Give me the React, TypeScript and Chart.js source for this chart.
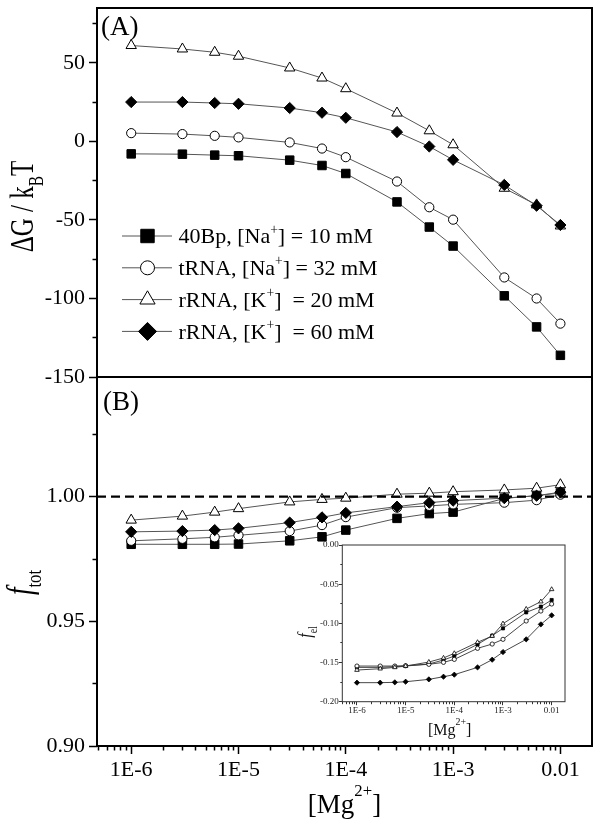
import React, { useEffect, useRef } from 'react';
import { Chart, registerables } from 'chart.js';
import { drawPoint } from 'chart.js/helpers';

Chart.register(...registerables);

const FONT = "'Liberation Serif', 'Times New Roman', serif";

// ---------- data ----------
const mgConc = [1e-6, 3e-6, 6e-6, 1e-5, 3e-5, 6e-5, 1e-4, 3e-4, 6e-4, 1e-3, 3e-3, 6e-3, 1e-2];

const seriesLabels = [
  '40Bp, [Na^{+}] = 10 mM',
  'tRNA, [Na^{+}] = 32 mM',
  'rRNA, [K^{+}]  = 20 mM',
  'rRNA, [K^{+}]  = 60 mM',
];

// Panel (A): ΔG / kBT
const dG_40Bp = [-7.9, -8.1, -8.7, -9.1, -11.9, -15.3, -20.4, -38.5, -54.5, -66.6, -98.3, -118.1, -136.2];
const dG_tRNA = [5.3, 4.7, 3.6, 2.6, -0.6, -4.5, -10.0, -25.5, -41.9, -49.8, -86.6, -100.0, -116.0];
const dG_rRNA20 = [61.1, 58.9, 56.8, 54.3, 46.8, 40.4, 33.6, 18.1, 6.8, -2.1, -29.8, -40.4, -53.8];
const dG_rRNA60 = [25.1, 25.1, 24.5, 24.0, 21.3, 18.3, 15.1, 6.0, -3.2, -11.7, -27.7, -40.9, -53.2];

// Panel (B): f_tot
const ftot_40Bp = [0.9809, 0.9809, 0.9809, 0.981, 0.9823, 0.9839, 0.9866, 0.9913, 0.9932, 0.9938, 0.9993, 1.0004, 1.0015];
const ftot_tRNA = [0.9823, 0.9831, 0.9837, 0.9845, 0.9862, 0.9886, 0.9918, 0.9956, 0.9963, 0.9969, 0.9976, 0.9986, 1.0008];
const ftot_rRNA20 = [0.9906, 0.9922, 0.9938, 0.9952, 0.9979, 0.9989, 0.9994, 1.001, 1.0014, 1.002, 1.0027, 1.0034, 1.0048];
const ftot_rRNA60 = [0.9859, 0.9862, 0.9866, 0.9873, 0.9896, 0.9917, 0.9935, 0.996, 0.9976, 0.9984, 0.9994, 1.0004, 1.0018];
const ftotReference = 1.0;

// Inset: f_el
const fel_40Bp = [-0.1562, -0.1562, -0.1553, -0.1545, -0.1519, -0.1468, -0.1417, -0.1268, -0.1157, -0.1064, -0.086, -0.0787, -0.0702];
const fel_tRNA = [-0.1545, -0.1545, -0.1545, -0.154, -0.1523, -0.1498, -0.146, -0.1319, -0.1264, -0.1204, -0.097, -0.0843, -0.0753];
const fel_rRNA20 = [-0.1596, -0.1579, -0.1562, -0.1545, -0.1494, -0.1442, -0.1383, -0.1242, -0.1162, -0.1004, -0.0817, -0.0723, -0.0566];
const fel_rRNA60 = [-0.1757, -0.1757, -0.1753, -0.1745, -0.1715, -0.1681, -0.1655, -0.1562, -0.1464, -0.1366, -0.1204, -0.1013, -0.0898];

// ---------- axes ----------
const xRange = [4.8e-7, 0.0197];
const insetXRange = [5e-7, 0.0188];
const xMajorTicks = [1e-6, 1e-5, 1e-4, 1e-3, 1e-2];
const xMajorLabels = ['1E-6', '1E-5', '1E-4', '1E-3', '0.01'];

const yARange = [-150, 85];
const yAMajor = [-150, -100, -50, 0, 50];
const yAMajorLabels = ['-150', '-100', '-50', '0', '50'];
const yAMinor = [-125, -75, -25, 25, 75];

const yBRange = [0.9, 1.048];
const yBMajor = [0.9, 0.95, 1.0];
const yBMajorLabels = ['0.90', '0.95', '1.00'];
const yBMinor = [0.925, 0.975, 1.025];

const insetYRange = [-0.2, 0.0];
const insetYMajor = [-0.2, -0.15, -0.1, -0.05, 0.0];
const insetYMajorLabels = ['-0.20', '-0.15', '-0.10', '-0.05', '0.00'];
const insetYMinor = [-0.175, -0.125, -0.075, -0.025];

const titleA = 'ΔG / k_{B}T';
const titleB = '~{f}_{tot}';
const titleX = '[Mg^{2+}]';
const titleInsetY = '~{f}_{el}';

// ---------- styles ----------
const pointStyles = ['rect', 'circle', 'triangle', 'rectRot'];
const filled = [true, false, false, true];
const mainRadius = [6, 4.6, 6, 5.6];
const legendRadius = [9.5, 7, 8.8, 9];
const insetRadius = [2.2, 2.1, 2.6, 2.6];
const drawOrder = [3, 2, 1, 0];

type Part = { t: string; k: 'n' | 'sup' | 'sub'; it: boolean };
const SCRIPT = 0.62;

function parseRich(s: string): Part[] {
  const parts: Part[] = [];
  let buf = '';
  let i = 0;
  const flush = () => {
    if (buf) parts.push({ t: buf, k: 'n', it: false });
    buf = '';
  };
  while (i < s.length) {
    const c = s[i];
    if ((c === '^' || c === '_' || c === '~') && s[i + 1] === '{') {
      const end = s.indexOf('}', i + 2);
      flush();
      parts.push({ t: s.slice(i + 2, end), k: c === '^' ? 'sup' : c === '_' ? 'sub' : 'n', it: c === '~' });
      i = end + 1;
    } else {
      buf += c;
      i++;
    }
  }
  flush();
  return parts;
}

function setFont(ctx: CanvasRenderingContext2D, p: Part, size: number) {
  const sz = p.k === 'n' ? size : size * SCRIPT;
  ctx.font = `${p.it ? 'italic ' : ''}${sz}px ${FONT}`;
}

function drawRich(
  ctx: CanvasRenderingContext2D,
  text: string,
  x: number,
  y: number,
  size: number,
  align: 'left' | 'center',
  raise = 0.45,
  drop = 0.25
) {
  const parts = parseRich(text);
  let w = 0;
  for (const p of parts) {
    setFont(ctx, p, size);
    w += ctx.measureText(p.t).width;
  }
  let cx = align === 'center' ? x - w / 2 : x;
  ctx.textAlign = 'left';
  ctx.textBaseline = 'alphabetic';
  for (const p of parts) {
    setFont(ctx, p, size);
    const dy = p.k === 'sup' ? -raise * size : p.k === 'sub' ? drop * size : 0;
    ctx.fillText(p.t, cx, y + dy);
    cx += ctx.measureText(p.t).width;
  }
}

function drawRotated(
  ctx: CanvasRenderingContext2D,
  text: string,
  baseX: number,
  centerY: number,
  size: number,
  stretch: number,
  drop: number
) {
  ctx.save();
  ctx.translate(baseX, centerY);
  ctx.rotate(-Math.PI / 2);
  ctx.scale(1, stretch);
  drawRich(ctx, text, 0, 0, size, 'center', 0.45, drop);
  ctx.restore();
}

function logTicks(range: number[]) {
  const out: any[] = [];
  for (let e = -8; e <= 0; e++) {
    for (let m = 1; m <= 9; m++) {
      const v = m * Math.pow(10, e);
      if (v >= range[0] && v <= range[1]) {
        const idx = m === 1 ? xMajorTicks.findIndex((t) => Math.abs(t - v) / t < 1e-6) : -1;
        out.push({ value: v, minor: m !== 1, lbl: idx >= 0 ? xMajorLabels[idx] : '' });
      }
    }
  }
  return out;
}

function linTicks(major: number[], labels: string[], minor: number[]) {
  const out: any[] = [];
  major.forEach((v, i) => out.push({ value: v, minor: false, lbl: labels[i] }));
  minor.forEach((v) => out.push({ value: v, minor: true, lbl: '' }));
  out.sort((a, b) => a.value - b.value);
  return out;
}

const labelCb = (_v: any, i: number, ticks: any[]) => (ticks[i] && ticks[i].lbl) || '';

const fitY = (w: number) => (s: any) => {
  s.width = w;
  s.paddingTop = 0;
  s.paddingBottom = 0;
};
const fitX = (h: number) => (s: any) => {
  s.height = h;
  s.paddingLeft = 0;
  s.paddingRight = 0;
};

function series(values: number[], i: number, axis: string, radius: number[], lineColor: string, lw: number, pbw: number) {
  return {
    label: seriesLabels[i],
    data: mgConc.map((x, k) => ({ x, y: values[k] })),
    yAxisID: axis,
    xAxisID: 'x',
    borderColor: lineColor,
    borderWidth: lw,
    pointStyle: pointStyles[i],
    pointRadius: radius[i],
    pointBackgroundColor: filled[i] ? '#000' : '#fff',
    pointBorderColor: '#000',
    pointBorderWidth: pbw,
    tension: 0,
    order: drawOrder[i],
  };
}

const mainPlugin = {
  id: 'mainDecor',
  afterDraw(chart: any) {
    const { ctx, chartArea: a } = chart;
    const yA = chart.scales.yA;
    const yB = chart.scales.yB;
    ctx.save();
    // frame
    ctx.strokeStyle = '#000';
    ctx.lineWidth = 2;
    ctx.strokeRect(a.left, a.top, a.right - a.left, a.bottom - a.top);
    ctx.beginPath();
    ctx.moveTo(a.left, yA.bottom);
    ctx.lineTo(a.right, yA.bottom);
    ctx.stroke();

    ctx.fillStyle = '#000';
    drawRich(ctx, '(A)', a.left + 4, yA.top + 27, 27, 'left');
    drawRich(ctx, '(B)', a.left + 6, yB.top + 33, 27, 'left');

    drawRotated(ctx, titleA, 33, (yA.top + yA.bottom) / 2 + 14, 25, 1.35, 0.3);
    drawRotated(ctx, titleB, 31, (yB.top + yB.bottom) / 2 + 21, 27, 1.3, 0.28);
    drawRich(ctx, titleX, (a.left + a.right) / 2, 813, 27, 'center', 0.62);

    // legend
    const ds = chart.data.datasets;
    for (let i = 0; i < 4; i++) {
      const y = yA.top + 228 + i * 31.8;
      ctx.strokeStyle = ds[i].borderColor;
      ctx.lineWidth = 1;
      ctx.beginPath();
      ctx.moveTo(a.left + 25, y);
      ctx.lineTo(a.left + 75, y);
      ctx.stroke();
      ctx.fillStyle = filled[i] ? '#000' : '#fff';
      ctx.strokeStyle = '#000';
      ctx.lineWidth = 1;
      drawPoint(ctx, { pointStyle: pointStyles[i], radius: legendRadius[i], rotation: 0, borderWidth: 1 } as any, a.left + 50.5, y);
      ctx.fillStyle = '#000';
      drawRich(ctx, seriesLabels[i], a.left + 81.5, y + 7.4, 22, 'left', 0.45);
    }
    ctx.restore();
  },
};

const insetPlugin = {
  id: 'insetDecor',
  beforeDraw(chart: any) {
    const { ctx, chartArea: a } = chart;
    ctx.save();
    ctx.fillStyle = '#fff';
    ctx.fillRect(a.left, a.top, a.right - a.left, a.bottom - a.top);
    ctx.restore();
  },
  afterDraw(chart: any) {
    const { ctx, chartArea: a } = chart;
    ctx.save();
    ctx.strokeStyle = '#333';
    ctx.lineWidth = 1;
    ctx.strokeRect(a.left, a.top, a.right - a.left, a.bottom - a.top);
    ctx.fillStyle = '#111';
    drawRich(ctx, titleX, (a.left + a.right) / 2 - 4, 200, 16, 'center', 0.6);
    drawRotated(ctx, titleInsetY, a.left - 31, (a.top + a.bottom) / 2 + 8.6, 16, 1.2, 0.28);
    ctx.restore();
  },
};

function mainConfig(): any {
  const datasets: any[] = [
    series(dG_40Bp, 0, 'yA', mainRadius, '#555', 1, 1),
    series(dG_tRNA, 1, 'yA', mainRadius, '#555', 1, 1),
    series(dG_rRNA20, 2, 'yA', mainRadius, '#555', 1, 1),
    series(dG_rRNA60, 3, 'yA', mainRadius, '#555', 1, 1),
    series(ftot_40Bp, 0, 'yB', mainRadius, '#555', 1, 1),
    series(ftot_tRNA, 1, 'yB', mainRadius, '#555', 1, 1),
    series(ftot_rRNA20, 2, 'yB', mainRadius, '#555', 1, 1),
    series(ftot_rRNA60, 3, 'yB', mainRadius, '#555', 1, 1),
    {
      label: 'ref',
      data: [
        { x: xRange[0], y: ftotReference },
        { x: xRange[1], y: ftotReference },
      ],
      yAxisID: 'yB',
      xAxisID: 'x',
      borderColor: '#000',
      borderWidth: 2.2,
      borderDash: [9, 5],
      pointRadius: 0,
      order: -1,
    },
  ];
  const tickFont = { family: FONT, size: 22 };
  const yGrid = {
    display: true,
    drawOnChartArea: false,
    drawTicks: true,
    tickLength: 8,
    tickWidth: 1.5,
    tickColor: '#000',
    tickBorderDash: (c: any) => (c.tick && c.tick.minor ? [0, 3.5, 10, 100] : []),
  };
  return {
    type: 'line',
    data: { datasets },
    plugins: [mainPlugin],
    options: {
      animation: false,
      responsive: false,
      events: [],
      layout: { padding: { left: 0, top: 8, right: 12, bottom: 0 } },
      plugins: { legend: { display: false }, tooltip: { enabled: false } },
      scales: {
        x: {
          type: 'logarithmic',
          position: 'bottom',
          min: xRange[0],
          max: xRange[1],
          afterBuildTicks: (s: any) => {
            s.ticks = logTicks(xRange);
          },
          afterFit: fitX(81),
          border: { display: false },
          grid: {
            display: true,
            drawOnChartArea: false,
            drawTicks: true,
            tickLength: 8,
            tickWidth: 1.5,
            tickColor: '#000',
            tickBorderDash: (c: any) => (c.tick && c.tick.minor ? [4.5, 100] : []),
          },
          ticks: { autoSkip: false, maxRotation: 0, minRotation: 0, padding: 3, color: '#000', font: tickFont, callback: labelCb },
        },
        yB: {
          type: 'linear',
          position: 'left',
          stack: 'panels',
          stackWeight: 1,
          min: yBRange[0],
          max: yBRange[1],
          afterBuildTicks: (s: any) => {
            s.ticks = linTicks(yBMajor, yBMajorLabels, yBMinor);
          },
          afterFit: fitY(97),
          border: { display: false },
          grid: yGrid,
          ticks: { autoSkip: false, padding: 4, color: '#000', font: tickFont, callback: labelCb },
        },
        yA: {
          type: 'linear',
          position: 'left',
          stack: 'panels',
          stackWeight: 1,
          min: yARange[0],
          max: yARange[1],
          afterBuildTicks: (s: any) => {
            s.ticks = linTicks(yAMajor, yAMajorLabels, yAMinor);
          },
          afterFit: fitY(97),
          border: { display: false },
          grid: yGrid,
          ticks: { autoSkip: false, padding: 4, color: '#000', font: tickFont, callback: labelCb },
        },
      },
    },
  };
}

function insetConfig(): any {
  const datasets: any[] = [
    series(fel_40Bp, 0, 'y', insetRadius, '#333', 0.9, 0.8),
    series(fel_tRNA, 1, 'y', insetRadius, '#333', 0.9, 0.8),
    series(fel_rRNA20, 2, 'y', insetRadius, '#333', 0.9, 0.8),
    series(fel_rRNA60, 3, 'y', insetRadius, '#333', 0.9, 0.8),
  ];
  const tickFont = { family: FONT, size: 9 };
  return {
    type: 'line',
    data: { datasets },
    plugins: [insetPlugin],
    options: {
      animation: false,
      responsive: false,
      events: [],
      layout: { padding: { left: 0, top: 10, right: 10, bottom: 0 } },
      plugins: { legend: { display: false }, tooltip: { enabled: false } },
      scales: {
        x: {
          type: 'logarithmic',
          position: 'bottom',
          min: insetXRange[0],
          max: insetXRange[1],
          afterBuildTicks: (s: any) => {
            s.ticks = logTicks(insetXRange);
          },
          afterFit: fitX(45.3),
          border: { display: false },
          grid: {
            display: true,
            drawOnChartArea: false,
            drawTicks: true,
            tickLength: 3.5,
            tickWidth: 1,
            tickColor: '#333',
            tickBorderDash: (c: any) => (c.tick && c.tick.minor ? [2.2, 100] : []),
          },
          ticks: { autoSkip: false, maxRotation: 0, minRotation: 0, padding: 0.5, color: '#222', font: tickFont, callback: labelCb },
        },
        y: {
          type: 'linear',
          position: 'left',
          min: insetYRange[0],
          max: insetYRange[1],
          afterBuildTicks: (s: any) => {
            s.ticks = linTicks(insetYMajor, insetYMajorLabels, insetYMinor);
          },
          afterFit: fitY(52.3),
          border: { display: false },
          grid: {
            display: true,
            drawOnChartArea: false,
            drawTicks: true,
            tickLength: 3.5,
            tickWidth: 1,
            tickColor: '#333',
            tickBorderDash: (c: any) => (c.tick && c.tick.minor ? [0, 1.5, 10, 100] : []),
          },
          ticks: { autoSkip: false, padding: 0, color: '#222', font: tickFont, callback: labelCb },
        },
      },
    },
  };
}

export default function App() {
  const mainRef = useRef<HTMLCanvasElement>(null);
  const insetRef = useRef<HTMLCanvasElement>(null);
  useEffect(() => {
    const c1 = new Chart(mainRef.current as HTMLCanvasElement, mainConfig());
    const c2 = new Chart(insetRef.current as HTMLCanvasElement, insetConfig());
    return () => {
      c1.destroy();
      c2.destroy();
    };
  }, []);
  return (
    <div style={{ position: 'absolute', left: 0, top: 0, width: 604, height: 827, background: '#fff', overflow: 'hidden' }}>
      <canvas ref={mainRef} width={604} height={827} style={{ position: 'absolute', left: 0, top: 0, width: 604, height: 827 }} />
      <canvas ref={insetRef} width={285} height={212} style={{ position: 'absolute', left: 290, top: 535, width: 285, height: 212 }} />
    </div>
  );
}
